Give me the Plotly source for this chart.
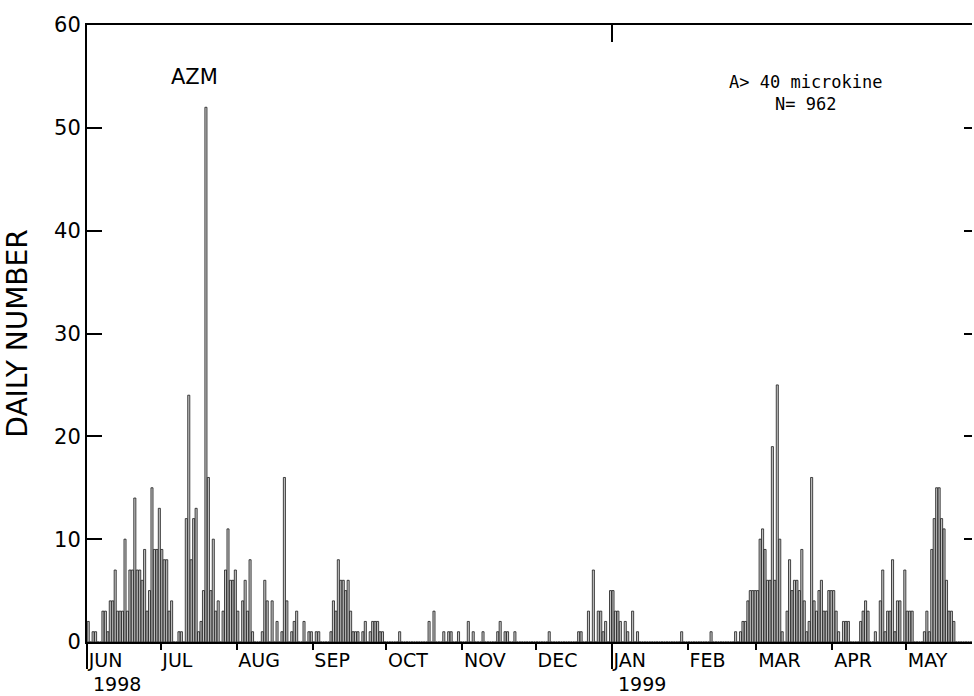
import pandas as pd
import plotly.graph_objects as go

# ---- data: daily number of events (A > 40 microkine), Jun 1998 - May 1999 ----
jun_1998 = [2, 0, 1, 1, 0, 0, 3, 3, 1, 4, 4, 7, 3, 3, 3, 10, 3, 7, 7, 14,
            7, 7, 6, 9, 3, 5, 15, 9, 9, 13]
jul_1998 = [9, 8, 8, 3, 4, 0, 0, 1, 1, 0, 12, 24, 8, 12, 13, 1, 2, 5, 52, 16,
            5, 10, 3, 4, 0, 3, 7, 11, 6, 6, 7]
aug_1998 = [3, 0, 4, 6, 3, 8, 1, 0, 0, 0, 1, 6, 4, 0, 4, 0, 2, 0, 1, 16,
            4, 0, 1, 2, 3, 0, 0, 2, 0, 1, 1]
sep_1998 = [0, 1, 1, 0, 0, 0, 0, 1, 4, 3, 8, 6, 6, 5, 6, 3, 1, 1, 1, 0,
            1, 2, 0, 1, 2, 2, 2, 1, 1, 0]
oct_1998 = [0, 0, 0, 0, 0, 1, 0, 0, 0, 0, 0, 0, 0, 0, 0, 0, 0, 2, 0, 3,
            0, 0, 0, 1, 0, 1, 1, 0, 0, 1, 0]
nov_1998 = [0, 0, 2, 0, 1, 0, 0, 0, 1, 0, 0, 0, 0, 0, 1, 2, 0, 1, 1, 0,
            0, 1, 0, 0, 0, 0, 0, 0, 0, 0]
dec_1998 = [0, 0, 0, 0, 0, 1, 0, 0, 0, 0, 0, 0, 0, 0, 0, 0, 0, 1, 1, 0,
            0, 3, 0, 7, 0, 3, 3, 1, 2, 0, 5]
jan_1999 = [5, 3, 3, 2, 0, 2, 1, 0, 3, 0, 1, 0, 0, 0, 0, 0, 0, 0, 0, 0,
            0, 0, 0, 0, 0, 0, 0, 0, 1, 0, 0]
feb_1999 = [0, 0, 0, 0, 0, 0, 0, 0, 0, 1, 0, 0, 0, 0, 0, 0, 0, 0, 0, 1,
            0, 1, 2, 2, 4, 5, 5, 5]
mar_1999 = [5, 10, 11, 9, 6, 6, 19, 6, 25, 10, 1, 0, 3, 8, 5, 6, 6, 5, 9, 4,
            1, 2, 16, 4, 3, 5, 6, 3, 3, 5, 5]
apr_1999 = [5, 3, 1, 0, 2, 2, 2, 0, 0, 0, 0, 2, 3, 4, 3, 0, 0, 1, 0, 4,
            7, 1, 3, 3, 8, 1, 4, 4, 0, 7]
may_1999 = [3, 3, 3, 0, 0, 0, 0, 1, 3, 1, 9, 12, 15, 15, 12, 11, 6, 3, 3, 2,
            0, 0, 0, 0, 0, 0, 0, 0, 0, 0, 0]

month_labels = ["JUN", "JUL", "AUG", "SEP", "OCT", "NOV", "DEC",
                "JAN", "FEB", "MAR", "APR", "MAY"]
year_labels = ["1998", "1999"]
y_ticks = [0, 10, 20, 30, 40, 50, 60]

daily = (jun_1998 + jul_1998 + aug_1998 + sep_1998 + oct_1998 + nov_1998 +
         dec_1998 + jan_1999 + feb_1999 + mar_1999 + apr_1999 + may_1999)

start = pd.Timestamp("1998-06-01")
dates = pd.date_range(start, periods=len(daily), freq="D")
centers = dates + pd.Timedelta(hours=12)
month_starts = pd.date_range("1998-06-01", "1999-05-01", freq="MS")
year_start = pd.Timestamp("1999-01-01")
x_range = [start, start + pd.Timedelta(days=360.9)]
DAY_MS = 86400000

FONT = "DejaVu Sans, Arial, sans-serif"
MONO = "DejaVu Sans Mono, monospace"

fig = go.Figure()
fig.add_trace(go.Bar(
    x=centers, y=daily, width=0.85 * DAY_MS,
    marker=dict(color="#c4c4c4", line=dict(color="#1a1a1a", width=0.8)),
    hoverinfo="x+y",
))

fig.update_layout(
    width=974, height=696,
    margin=dict(l=87, r=2, t=25, b=54, autoexpand=False),
    paper_bgcolor="white", plot_bgcolor="white",
    showlegend=False,
    font=dict(family=FONT, color="black"),
    xaxis=dict(
        type="date", range=x_range, automargin=False,
        tickmode="array", tickvals=month_starts, ticktext=month_labels,
        ticks="outside", ticklen=6, tickwidth=1.5, tickcolor="black",
        ticklabelposition="outside right",
        tickfont=dict(family=FONT, size=19, color="black"),
        showline=True, linewidth=2, linecolor="black",
        showgrid=False, zeroline=False,
    ),
    xaxis2=dict(
        type="date", range=x_range, overlaying="x", side="top", anchor="y",
        automargin=False,
        tickmode="array", tickvals=[year_start],
        ticks="inside", ticklen=17, tickwidth=1.5, tickcolor="black",
        showticklabels=False,
        showline=True, linewidth=1.5, linecolor="black",
        showgrid=False, zeroline=False,
    ),
    xaxis3=dict(
        type="date", range=x_range, overlaying="x", side="bottom", anchor="y",
        automargin=False,
        tickmode="array", tickvals=[start, year_start],
        ticks="outside", ticklen=26, tickwidth=1.5, tickcolor="black",
        showticklabels=False, showline=False,
        showgrid=False, zeroline=False,
    ),
    yaxis=dict(
        range=[0, 60], tickmode="array", tickvals=y_ticks, automargin=False,
        ticks="inside", ticklen=15, tickwidth=1.5, tickcolor="black",
        tickfont=dict(family=FONT, size=21, color="black"),
        showline=True, linewidth=2, linecolor="black",
        showgrid=False, zeroline=False,
        title=dict(text="DAILY NUMBER", font=dict(family=FONT, size=28, color="black"),
                   standoff=18),
    ),
    yaxis2=dict(
        range=[0, 60], overlaying="y", side="right", anchor="x", automargin=False,
        tickmode="array", tickvals=y_ticks[1:-1],
        ticks="inside", ticklen=8, tickwidth=1.5, tickcolor="black",
        showticklabels=False, showline=False,
        showgrid=False, zeroline=False,
    ),
)

# placeholder traces so the overlay axes are registered
fig.add_trace(go.Scatter(x=[start], y=[None], xaxis="x2", yaxis="y",
                         mode="markers", hoverinfo="skip", showlegend=False))
fig.add_trace(go.Scatter(x=[start], y=[None], xaxis="x3", yaxis="y2",
                         mode="markers", hoverinfo="skip", showlegend=False))

fig.add_annotation(text="AZM", xref="paper", yref="paper", x=0.122, y=0.916,
                   xanchor="center", yanchor="middle", showarrow=False,
                   font=dict(family=FONT, size=21, color="black"))
fig.add_annotation(text="A> 40 microkine", xref="paper", yref="paper",
                   x=0.8125, y=0.907, xanchor="center", yanchor="middle",
                   showarrow=False, font=dict(family=MONO, size=17, color="black"))
fig.add_annotation(text="N= 962", xref="paper", yref="paper",
                   x=0.8118, y=0.872, xanchor="center", yanchor="middle",
                   showarrow=False, font=dict(family=MONO, size=17, color="black"))

fig.add_annotation(text=year_labels[0], xref="x", yref="paper", x=start, y=0,
                   xanchor="left", yanchor="bottom", xshift=5, yshift=-54,
                   borderpad=0, showarrow=False,
                   font=dict(family=FONT, size=19, color="black"))
fig.add_annotation(text=year_labels[1], xref="x", yref="paper", x=year_start, y=0,
                   xanchor="left", yanchor="bottom", xshift=5, yshift=-54,
                   borderpad=0, showarrow=False,
                   font=dict(family=FONT, size=19, color="black"))

fig.write_html(
    "out.html",
    config={"displayModeBar": False},
    post_script="document.body.style.margin='0px';document.body.style.overflow='hidden';",
)
